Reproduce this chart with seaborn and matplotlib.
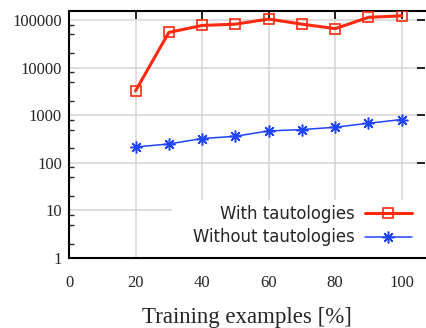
import matplotlib
matplotlib.use("Agg")
import matplotlib.pyplot as plt
import matplotlib.ticker as mticker
from matplotlib.patches import Rectangle
import seaborn as sns
import pandas as pd

x_pct = [20, 30, 40, 50, 60, 70, 80, 90, 100]
with_taut = [3250, 55000, 77000, 82000, 105000, 82000, 66000, 114000, 123000]
without_taut = [215, 249, 324, 361, 468, 500, 559, 679, 813]
series_names = ["With tautologies", "Without tautologies"]
x_ticks = [0, 20, 40, 60, 80, 100]
y_ticks = [1, 10, 100, 1000, 10000, 100000]
x_label = "Training examples [%]"

df = pd.DataFrame({
    "x": x_pct * 2,
    "y": with_taut + without_taut,
    "series": [series_names[0]] * len(x_pct) + [series_names[1]] * len(x_pct),
})

sns.set_style("white")
plt.rcParams["font.family"] = ["DejaVu Sans"]

fig = plt.figure(figsize=(4.26, 3.28), dpi=100)
ax = fig.add_axes([69 / 426, 1 - 258 / 328, 356 / 426, 247 / 328])

red = "#ff2a0e"
blue = "#1f45ff"

sns.lineplot(data=df[df.series == series_names[0]], x="x", y="y", ax=ax,
             color=red, lw=2.2, marker="s", markersize=7.5,
             markerfacecolor="none", markeredgecolor=red, markeredgewidth=1.2,
             label=series_names[0], zorder=5)
sns.lineplot(data=df[df.series == series_names[1]], x="x", y="y", ax=ax,
             color=blue, lw=1.1, marker=(8, 2, 0), markersize=8.5,
             markeredgecolor=blue, markeredgewidth=1.1,
             label=series_names[1], zorder=5)

ax.set_yscale("log")
ax.set_xlim(0, 107)
ax.set_ylim(1, 155000)
ax.set_xticks(x_ticks)
ax.set_xticklabels([str(t) for t in x_ticks])
ax.yaxis.set_major_locator(mticker.FixedLocator(y_ticks))
ax.yaxis.set_major_formatter(mticker.FixedFormatter([str(t) for t in y_ticks]))
ax.yaxis.set_minor_locator(mticker.LogLocator(base=10, subs=[2, 5, 8]))
ax.yaxis.set_minor_formatter(mticker.NullFormatter())

ax.grid(True, which="major", color="#d4d4d4", lw=1.1, zorder=0)
ax.set_axisbelow(True)

for side in ["left", "bottom", "top"]:
    ax.spines[side].set_visible(True)
    ax.spines[side].set_color("black")
    ax.spines[side].set_linewidth(1.5)
ax.spines["right"].set_visible(False)

ax.tick_params(axis="both", which="major", direction="in", length=6, width=1.2,
               color="black")
ax.tick_params(axis="y", which="minor", direction="in", length=3.5, width=1.0,
               left=True, right=False)
ax.tick_params(axis="x", which="major", top=True, pad=12)
ax.tick_params(axis="y", which="major", right=True, pad=5)
for lab in ax.get_xticklabels() + ax.get_yticklabels():
    lab.set_fontfamily("Liberation Serif")
    lab.set_fontsize(12)

ax.set_xlabel(x_label, fontfamily="Liberation Serif", fontsize=16.5, labelpad=12)
ax.set_ylabel("")

# white key background hiding the grid
ax.add_patch(Rectangle((0.289, 0), 0.711, 0.235, transform=ax.transAxes,
                       facecolor="white", edgecolor="none", zorder=1))

leg = ax.legend(loc="lower right", bbox_to_anchor=(0.996, 0.0),
                frameon=False, markerfirst=False, fontsize=11.9,
                handlelength=2.85, handletextpad=0.65, labelspacing=0.33,
                borderpad=0.2)
leg.set_zorder(6)

fig.savefig("out.png", dpi=100)
